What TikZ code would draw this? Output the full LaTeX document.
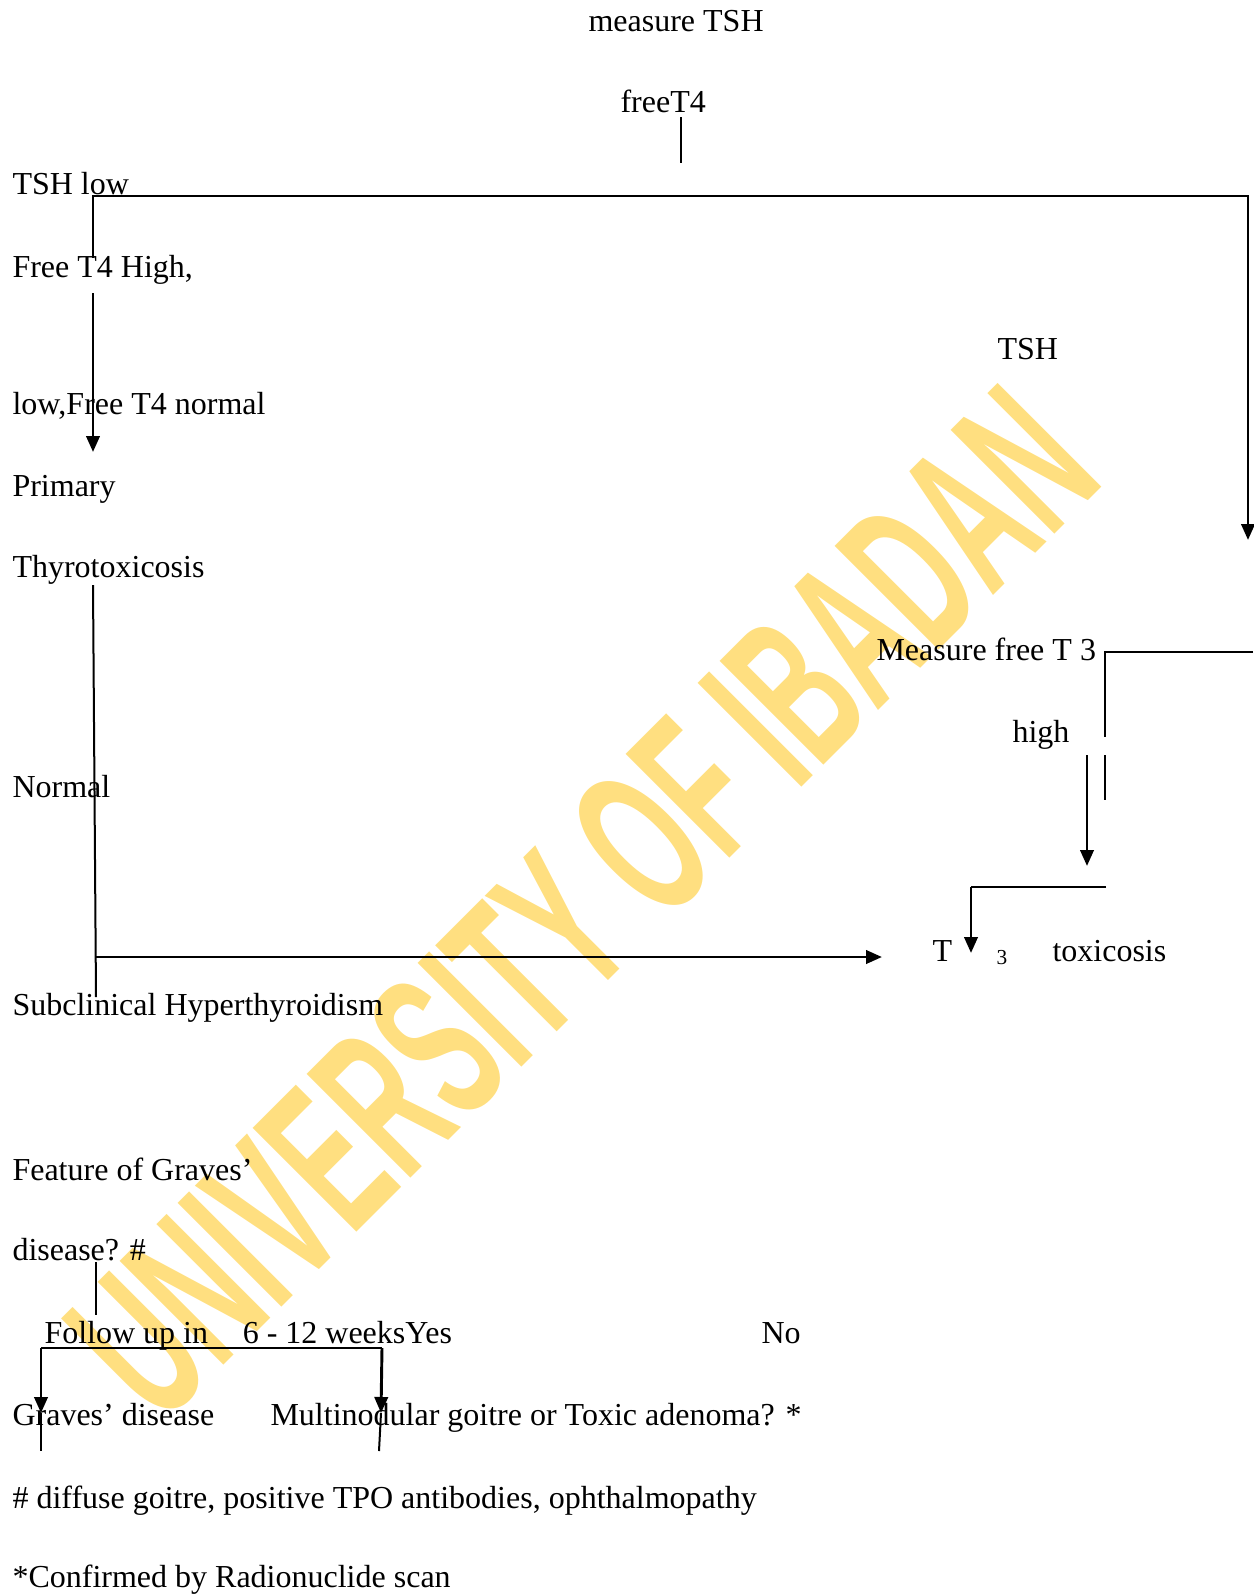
\documentclass[tikz,border=0pt]{standalone}
\usepackage{fontspec}
\setmainfont{Liberation Serif}
\newfontfamily\wmfont{Liberation Sans}
\usepackage{tikz}
\usetikzlibrary{arrows.meta}
\definecolor{wmyellow}{HTML}{FFDF80}
\tikzset{
  txt/.style={anchor=base west, inner sep=0pt, font=\fontsize{12}{14}\selectfont},
  ln/.style={line width=0.75pt},
  arr/.style={line width=1.1pt, -{Triangle[length=6pt,width=5pt]}},
}

\begin{document}
\begin{tikzpicture}[x=0.375pt,y=-0.375pt]
\useasboundingbox (0,0) rectangle (1253,1595);
% watermark
\begin{scope}[shift={(582,903)}]
\node[rotate=45, xscale=0.53, inner sep=0pt, text=wmyellow, font=\wmfont\bfseries\fontsize{80}{82}\selectfont] (wm) at (0,0) {UNIVERSITY OF IBADAN};
\end{scope}
% texts
\node[txt] (mtsh) at (588,31) {measure TSH};
\node[txt] (ft4) at (620,112) {freeT4};
\node[txt] (tshlow) at (12,194) {TSH low};
\node[txt] (fthigh) at (12,277) {Free T4 High,};
\node[txt] (lownorm) at (12,414) {low,Free T4 normal};
\node[txt] (prim) at (12,496) {Primary};
\node[txt] (thyro) at (12,577) {Thyrotoxicosis};
\node[txt] (norm) at (12,797) {Normal};
\node[txt] (subcl) at (12,1015) {Subclinical Hyperthyroidism};
\node[txt] (tsh) at (997,359) {TSH};
\node[txt] (mft3) at (876,660) {Measure free T 3};
\node[txt] (high) at (1012,742) {high};
\node[txt] (tt) at (932,961) {T};
\node[txt, font=\fontsize{8}{9}\selectfont] (tsub) at (996,964) {3};
\node[txt] (tox) at (1052,961) {toxicosis};
\node[txt] (feat) at (12,1180) {Feature of Graves’};
\node[txt] (dis) at (12,1260) {disease? \#};
\node[txt] (fol) at (44,1343) {Follow up in\hspace{13pt}6 - 12 weeksYes};
\node[txt] (no) at (761,1343) {No};
\node[txt] (grv) at (12,1425) {Graves’ disease};
\node[txt] (mng) at (270,1425) {Multinodular goitre or Toxic adenoma? *};
\node[txt] (fn1) at (12,1508) {\# diffuse goitre, positive TPO antibodies, ophthalmopathy};
\node[txt] (fn2) at (12,1587) {*Confirmed by Radionuclide scan};
% connector points
\coordinate (f1) at (681,117);
\coordinate (f2) at (681,163);
\coordinate (l1) at (93,258);
\coordinate (l2) at (93,196);
\coordinate (r1) at (1248,196);
\coordinate (r2) at (1248,367);
\coordinate (r3) at (1248,540);
\coordinate (l3) at (93,293);
\coordinate (l4) at (93,452);
\coordinate (l5) at (93,585);
\coordinate (l6) at (96,997);
\coordinate (h1) at (96,957);
\coordinate (h2) at (882,957);
\coordinate (m1) at (1253,652);
\coordinate (m2) at (1105,652);
\coordinate (m3) at (1105,737);
\coordinate (m4) at (1105,755);
\coordinate (m5) at (1105,800);
\coordinate (g1) at (1087,755);
\coordinate (g2) at (1087,866);
\coordinate (k1) at (1106,887);
\coordinate (k2) at (971,887);
\coordinate (k3) at (971,953);
\coordinate (d1) at (96,1262);
\coordinate (d2) at (96,1315);
\coordinate (b1) at (41,1348);
\coordinate (b2) at (382,1348);
\coordinate (b3) at (41,1413);
\coordinate (b4) at (41,1451);
\coordinate (b5) at (381,1413);
\coordinate (b6) at (379,1451);
% connectors
\draw[ln] (f1) -- (f2);
\draw[ln] (l1) -- (l2) -- (r1) -- (r2);
\draw[arr] (r2) -- (r3);
\draw[arr] (l3) -- (l4);
\draw[ln] (l5) -- (l6);
\draw[arr] (h1) -- (h2);
\draw[ln] (m1) -- (m2) -- (m3);
\draw[ln] (m4) -- (m5);
\draw[arr] (g1) -- (g2);
\draw[ln] (k1) -- (k2);
\draw[arr] (k2) -- (k3);
\draw[ln] (d1) -- (d2);
\draw[ln] (b1) -- (b2);
\draw[arr] (b1) -- (b3);
\draw[ln] (b3) -- (b4);
\draw[arr] (b2) -- (b5);
\draw[ln] (b5) -- (b6);
\end{tikzpicture}
\end{document}
